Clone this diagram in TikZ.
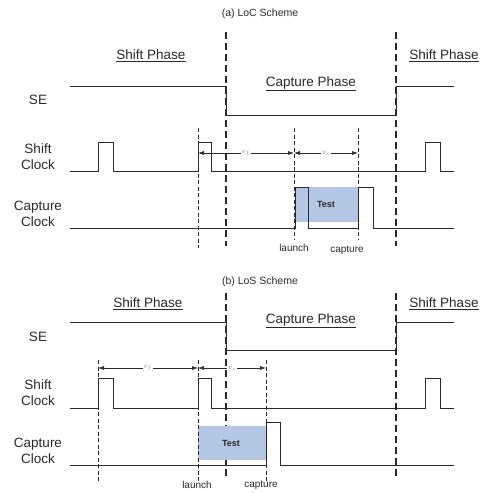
\documentclass[tikz,border=0pt]{standalone}
\usepackage{fontspec}
\setmainfont{Liberation Sans}
\usetikzlibrary{arrows.meta}
\definecolor{sig}{HTML}{2A2A2A}
\definecolor{testblue}{HTML}{B3C6E3}
\begin{document}
\begin{tikzpicture}[x=1pt,y=-1pt,
  wave/.style={draw=sig,line width=1pt},
  phase/.style={draw=sig,line width=1.5pt,dash pattern=on 7pt off 4pt},
  marker/.style={draw=sig,line width=0.7pt,dash pattern=on 4pt off 2.5pt},
  span/.style={draw=sig,line width=0.6pt,{Latex[length=6pt,width=4pt]}-{Latex[length=6pt,width=4pt]}},
  ttl/.style={font=\fontsize{10.5}{12}\selectfont,text=sig},
  ph/.style={font=\fontsize{13.5}{15}\selectfont,text=sig},
  sig lbl/.style={font=\fontsize{13.5}{16}\selectfont,text=sig,align=center},
  tick/.style={font=\fontsize{10}{11}\selectfont,text=sig},
  vl/.style={font=\fontsize{7}{8}\selectfont,text=gray,fill=white,inner sep=1pt},
  testbox/.style={fill=testblue,draw=none},
  testlbl/.style={font=\bfseries\fontsize{9}{10}\selectfont,text=sig}]
\useasboundingbox[fill=white] (0,0) rectangle (486,493);

% ================= (a) LoC =================
\node[ttl] (ta) at (260,14) {(a) LoC Scheme};
\node[ph] (spa1) at (151,56) {\underline{Shift Phase}};
\node[ph] (spa2) at (444,56) {\underline{Shift Phase}};
\node[ph] (cpa) at (311,84) {\underline{Capture Phase}};
\node[sig lbl] (sea) at (38,100) {SE};
\node[sig lbl] (sca) at (38,157) {Shift\\Clock};
\node[sig lbl] (cca) at (38,214) {Capture\\Clock};

% phase boundaries
\coordinate (pa1t) at (226,32); \coordinate (pa1b) at (226,246);
\coordinate (pa2t) at (396,32); \coordinate (pa2b) at (396,246);
\draw[phase] (pa1t) -- (pa1b);
\draw[phase] (pa2t) -- (pa2b);

% test box
\fill[testbox] (295,187) rectangle (358,222);
\node[testlbl] (testa) at (326,204) {Test};

% SE
\draw[wave] (70,86) -- (226,86) -- (226,115) -- (396,115) -- (396,86) -- (454,86);
% shift clock
\draw[wave] (70,171) -- (98,171) -- (98,142) -- (113,142) -- (113,171)
  -- (198,171) -- (198,142) -- (211,142) -- (211,171)
  -- (425,171) -- (425,142) -- (440,142) -- (440,171) -- (454,171);
% capture clock
\draw[wave] (70,228) -- (295,228) -- (295,187) -- (308,187) -- (308,228)
  -- (358,228) -- (358,187) -- (373,187) -- (373,228) -- (454,228);

% markers
\coordinate (ma1t) at (198,128); \coordinate (ma1b) at (198,248);
\coordinate (ma2t) at (294,128); \coordinate (ma2b) at (294,240);
\coordinate (ma3t) at (358,128); \coordinate (ma3b) at (358,240);
\draw[marker] (ma1t) -- (ma1b);
\draw[marker] (ma2t) -- (ma2b);
\draw[marker] (ma3t) -- (ma3b);
\coordinate (aa1) at (198,153); \coordinate (aa2) at (294,153); \coordinate (aa3) at (358,153);
\draw[span] (aa1) -- node[vl] {$v_f$} (aa2);
\draw[span] (aa2) -- node[vl] {$v_s$} (aa3);
\node[tick] (la) at (294,248) {launch};
\node[tick] (ca) at (347,250) {capture};

% ================= (b) LoS =================
\node[ttl] (tb) at (260,282) {(b) LoS Scheme};
\node[ph] (spb1) at (148,304) {\underline{Shift Phase}};
\node[ph] (spb2) at (444,304) {\underline{Shift Phase}};
\node[ph] (cpb) at (311,321) {\underline{Capture Phase}};
\node[sig lbl] (seb) at (38,337) {SE};
\node[sig lbl] (scb) at (38,393) {Shift\\Clock};
\node[sig lbl] (ccb) at (38,451) {Capture\\Clock};

\coordinate (pb1t) at (226,293); \coordinate (pb1b) at (226,478);
\coordinate (pb2t) at (396,293); \coordinate (pb2b) at (396,478);
\draw[phase] (pb1t) -- (pb1b);
\draw[phase] (pb2t) -- (pb2b);

\fill[testbox] (198,426) rectangle (266,460);
\node[testlbl] (testb) at (231,443) {Test};

\draw[wave] (70,322) -- (226,322) -- (226,350) -- (396,350) -- (396,322) -- (454,322);
\draw[wave] (70,408) -- (98,408) -- (98,378) -- (113,378) -- (113,408)
  -- (198,408) -- (198,378) -- (211,378) -- (211,408)
  -- (425,408) -- (425,378) -- (440,378) -- (440,408) -- (454,408);
\draw[wave] (70,465) -- (266,465) -- (266,422) -- (280,422) -- (280,465) -- (454,465);

\coordinate (mb1t) at (98,360); \coordinate (mb1b) at (98,482);
\coordinate (mb2t) at (198,360); \coordinate (mb2b) at (198,482);
\coordinate (mb3t) at (266,360); \coordinate (mb3b) at (266,482);
\draw[marker] (mb1t) -- (mb1b);
\draw[marker] (mb2t) -- (mb2b);
\draw[marker] (mb3t) -- (mb3b);
\coordinate (ab1) at (98,368); \coordinate (ab2) at (198,368); \coordinate (ab3) at (266,368);
\draw[span] (ab1) -- node[vl] {$v_f$} (ab2);
\draw[span] (ab2) -- node[vl] {$v_s$} (ab3);
\node[tick] (lb) at (197,485) {launch};
\node[tick] (cb) at (261,485) {capture};
\end{tikzpicture}
\end{document}
